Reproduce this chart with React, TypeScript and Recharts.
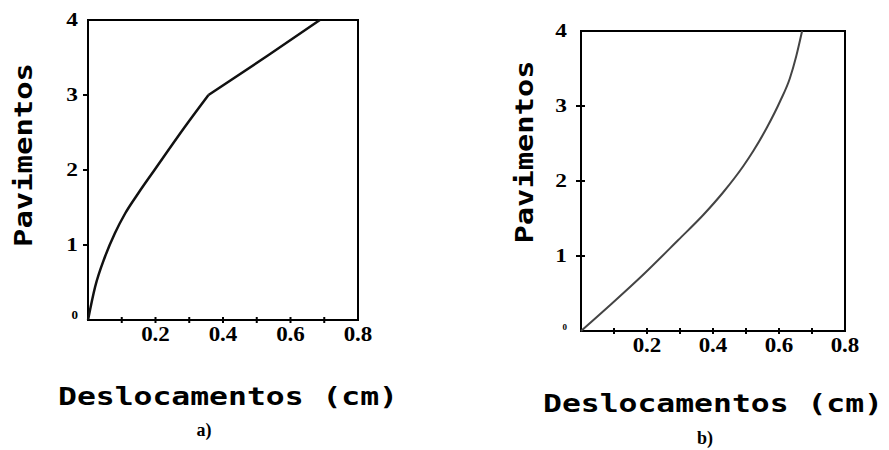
import React from "react";
import { LineChart, Line, XAxis, YAxis, ReferenceArea } from "recharts";

// Pavimentos x Deslocamentos
const floorsA = [0, 0.44, 0.84, 1.16, 1.42, 1.69, 2.0, 2.6, 3.0, 3.53, 4];
const dispA = [0, 0.021, 0.05, 0.08, 0.11, 0.149, 0.197, 0.291, 0.357, 0.534, 0.687];
const kinkA = 8; // a curva dobra no 3o pavimento

const floorsB = [0, 0.36, 0.77, 1.21, 1.55, 1.85, 2.2, 2.4, 2.71, 3.06, 3.37, 3.66, 4];
const dispB = [0, 0.092, 0.193, 0.294, 0.371, 0.431, 0.492, 0.522, 0.563, 0.603, 0.633, 0.652, 0.67];

const xTicks = [0, 0.1, 0.2, 0.3, 0.4, 0.5, 0.6, 0.7, 0.8];
const xTickLabels = ["", "", "0.2", "", "0.4", "", "0.6", "", "0.8"];
const yTicks = [0, 1, 2, 3, 4];
const yTickLabels = ["0", "1", "2", "3", "4"];

const dataA = dispA.map((x, i) => ({ x, y: floorsA[i] }));
const dataA1 = dataA.slice(0, kinkA + 1);
const dataA2 = dataA.slice(kinkA);
const dataB = dispB.map((x, i) => ({ x, y: floorsB[i] }));

const serif = "'Liberation Serif', 'Times New Roman', serif";
const mono = "'DejaVu Sans Mono', monospace";

const XTick = (props: any) => {
  const { x, y, index } = props;
  const label = xTickLabels[index];
  return (
    <g>
      {index > 0 && index < xTicks.length - 1 && (
        <line x1={x} x2={x} y1={y - 3} y2={y + 3} stroke="#000" strokeWidth={2} />
      )}
      {label && (
        <text
          transform={`translate(${x},${y + 21}) scale(1.15,1)`}
          textAnchor="middle"
          fontFamily={serif}
          fontWeight="bold"
          fontSize={20}
          fill="#000"
        >
          {label}
        </text>
      )}
    </g>
  );
};

const YTick = (props: any) => {
  const { x, y, index, gap, zeroSize, inward } = props;
  const label = yTickLabels[index];
  if (index === 0) {
    return (
      <text x={x - gap} y={y - 1} textAnchor="end" fontFamily={serif} fontWeight="bold" fontSize={zeroSize} fill="#000">
        {label}
      </text>
    );
  }
  return (
    <g>
      {index < yTicks.length - 1 && (
        <line x1={x - 5} x2={x + inward} y1={y} y2={y} stroke="#000" strokeWidth={2} />
      )}
      <text
        transform={`translate(${x - gap},${y + 6}) scale(1.3,1)`}
        textAnchor="end"
        fontFamily={serif}
        fontWeight="bold"
        fontSize={18}
        fill="#000"
      >
        {label}
      </text>
    </g>
  );
};

const Panel = ({ width, height, margin, gap, zeroSize, inward, children }: any) => (
  <LineChart width={width} height={height} margin={margin}>
    <XAxis
      type="number"
      dataKey="x"
      domain={[0, 0.8]}
      ticks={xTicks}
      interval={0}
      height={30}
      tickSize={0}
      tickMargin={0}
      tickLine={false}
      axisLine={false}
      allowDuplicatedCategory={false}
      tick={(p: any) => <XTick {...p} />}
    />
    <YAxis
      type="number"
      dataKey="y"
      domain={[0, 4]}
      ticks={yTicks}
      interval={0}
      width={40}
      tickSize={0}
      tickMargin={0}
      tickLine={false}
      axisLine={false}
      tick={(p: any) => <YTick {...p} gap={gap} zeroSize={zeroSize} inward={inward} />}
    />
    <ReferenceArea x1={0} x2={0.8} y1={0} y2={4} fill="none" stroke="#000" strokeWidth={2} ifOverflow="visible" />
    {children}
  </LineChart>
);

export default function App() {
  return (
    <div style={{ position: "absolute", left: 0, top: 0, width: 889, height: 450, background: "#fff" }}>
      <div style={{ position: "absolute", left: 0, top: 0 }}>
        <Panel
          width={380}
          height={360}
          margin={{ top: 20, right: 22, bottom: 10, left: 48 }}
          gap={10}
          zeroSize={13}
          inward={0}
        >
          <Line data={dataA1} type="monotone" dataKey="y" stroke="#111" strokeWidth={2.5} dot={false} isAnimationActive={false} />
          <Line data={dataA2} type="linear" dataKey="y" stroke="#111" strokeWidth={2.5} dot={false} isAnimationActive={false} />
        </Panel>
      </div>
      <div style={{ position: "absolute", left: 500, top: 0 }}>
        <Panel
          width={389}
          height={371}
          margin={{ top: 31, right: 44, bottom: 10, left: 41 }}
          gap={14}
          zeroSize={9}
          inward={4}
        >
          <Line data={dataB} type="monotone" dataKey="y" stroke="#444" strokeWidth={2} dot={false} isAnimationActive={false} />
        </Panel>
      </div>
      <svg width={889} height={450} style={{ position: "absolute", left: 0, top: 0, pointerEvents: "none" }}>
        <text transform="translate(32,155) rotate(-90)" textAnchor="middle" fontFamily={mono} fontWeight="bold" fontSize={25} textLength={184} lengthAdjust="spacingAndGlyphs" fill="#000">
          Pavimentos
        </text>
        <text transform="translate(533,152) rotate(-90)" textAnchor="middle" fontFamily={mono} fontWeight="bold" fontSize={25} textLength={183} lengthAdjust="spacingAndGlyphs" fill="#000">
          Pavimentos
        </text>
        <text x={58} y={405} fontFamily={mono} fontWeight="bold" fontSize={24} textLength={340} lengthAdjust="spacingAndGlyphs" fill="#000">
          Deslocamentos (cm)
        </text>
        <text x={543} y={412} fontFamily={mono} fontWeight="bold" fontSize={24} textLength={340} lengthAdjust="spacingAndGlyphs" fill="#000">
          Deslocamentos (cm)
        </text>
        <text x={204} y={436} textAnchor="middle" fontFamily={serif} fontWeight="bold" fontSize={18} fill="#000">
          a)
        </text>
        <text x={705} y={444} textAnchor="middle" fontFamily={serif} fontWeight="bold" fontSize={18} fill="#000">
          b)
        </text>
      </svg>
    </div>
  );
}
